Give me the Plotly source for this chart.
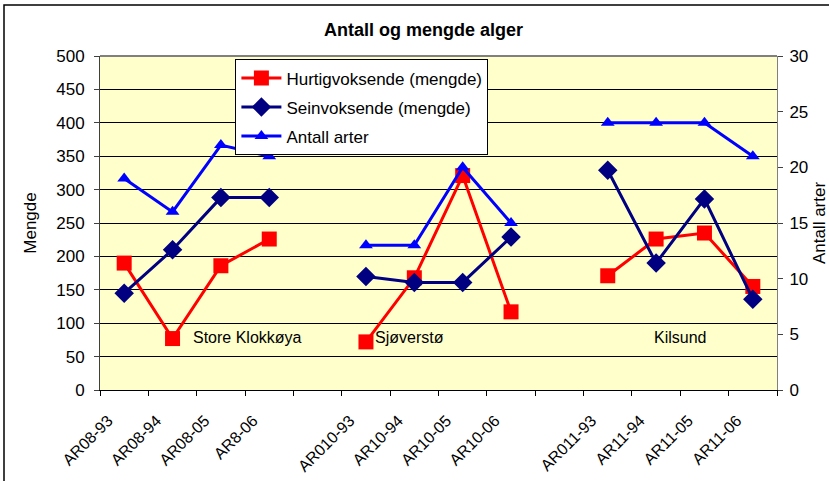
import plotly.graph_objects as go

categories = ["AR08-93", "AR08-94", "AR08-05", "AR8-06", " ",
              "AR010-93", "AR10-94", "AR10-05", "AR10-06", "  ",
              "AR011-93", "AR11-94", "AR11-05", "AR11-06"]
hurtig = [190, 77, 186, 226, None, 72, 168, 321, 117, None, 171, 226, 235, 155]
sein = [145, 210, 288, 288, None, 170, 161, 161, 229, None, 329, 190, 286, 136]
arter = [19, 16, 22, 21, None, 13, 13, 20, 15, None, 24, 24, 24, 21]

site_labels = ["Store Klokkøya", "Sjøverstø", "Kilsund"]
site_x = [2.56, 5.9, 11.5]
site_y = [78, 78, 78]

FONT = "Liberation Sans, Arial, sans-serif"

fig = go.Figure()
fig.add_trace(go.Scatter(x=categories, y=hurtig, name="Hurtigvoksende (mengde)",
                         mode="lines+markers", legendgroup="a",
                         line=dict(color="#FF0000", width=3),
                         marker=dict(symbol="square", size=15, color="#FF0000"),
                         connectgaps=False))
fig.add_trace(go.Scatter(x=categories, y=sein, name="Seinvoksende (mengde)",
                         mode="lines+markers", legendgroup="b",
                         line=dict(color="#000080", width=3),
                         marker=dict(symbol="diamond", size=15, color="#000080"),
                         connectgaps=False))
fig.add_trace(go.Scatter(x=categories, y=arter, name="Antall arter",
                         mode="lines+markers", legendgroup="c", yaxis="y2",
                         line=dict(color="#0000FF", width=3),
                         marker=dict(symbol="triangle-up", size=12, color="#0000FF"),
                         connectgaps=False))

for t, xx, yy in zip(site_labels, site_x, site_y):
    fig.add_annotation(x=xx, y=yy, xref="x", yref="y", text=t, showarrow=False,
                       font=dict(family=FONT, size=16, color="black"))

fig.update_layout(
    width=829, height=481,
    margin=dict(l=100, r=52, t=56, b=91),
    paper_bgcolor="white",
    plot_bgcolor="#FFFFCC",
    font=dict(family=FONT, size=16, color="black"),
    title=dict(text="<b>Antall og mengde alger</b>", x=0.511, xanchor="center",
               y=0.9376, yanchor="middle", font=dict(family=FONT, size=18, color="black")),
    showlegend=True,
    legend=dict(x=0.2, y=0.99, xanchor="left", yanchor="top",
                bgcolor="white", bordercolor="black", borderwidth=1,
                font=dict(family=FONT, size=17, color="black"),
                tracegroupgap=4, itemwidth=40),
    xaxis=dict(type="category", categoryorder="array", categoryarray=categories,
               range=[-0.5, 13.5], tickson="boundaries", ticks="outside",
               ticklen=5, tickcolor="black", tickangle=-45, automargin=False,
               ticklabelstandoff=14, ticklabelshift=-16,
               tickfont=dict(family=FONT, size=16, color="black"),
               showline=True, linecolor="black", linewidth=1,
               showgrid=False, zeroline=False),
    yaxis=dict(range=[0, 500], dtick=50, ticks="outside", ticklen=5, automargin=False,
               ticklabelstandoff=6,
               tickcolor="#404040", showline=True, linecolor="#404040", linewidth=1,
               showgrid=True, gridcolor="#000000", gridwidth=1, zeroline=False,
               tickfont=dict(family=FONT, size=17, color="black"),
               title=dict(text="Mengde", font=dict(family=FONT, size=17, color="black"))),
    yaxis2=dict(range=[0, 30], dtick=5, overlaying="y", side="right", automargin=False,
                ticks="outside", ticklen=5, tickcolor="#404040", ticklabelstandoff=3,
                showline=True, linecolor="#808080", linewidth=1,
                showgrid=False, zeroline=False,
                tickfont=dict(family=FONT, size=17, color="black"),
                title=dict(text="Antall arter", font=dict(family=FONT, size=17, color="black"))),
)

# plot-area top border (gray) and outer chart frame
fig.add_shape(type="line", xref="paper", yref="paper", x0=0, x1=1, y0=1, y1=1,
              line=dict(color="#808080", width=2))
fig.add_shape(type="rect", xref="paper", yref="paper",
              x0=-0.1418, x1=1.2, y0=-0.5, y1=1.1527,
              line=dict(color="black", width=1.5), layer="below")

fig.write_html("out.html", config={"displayModeBar": False},
               post_script="document.body.style.margin='0';")
